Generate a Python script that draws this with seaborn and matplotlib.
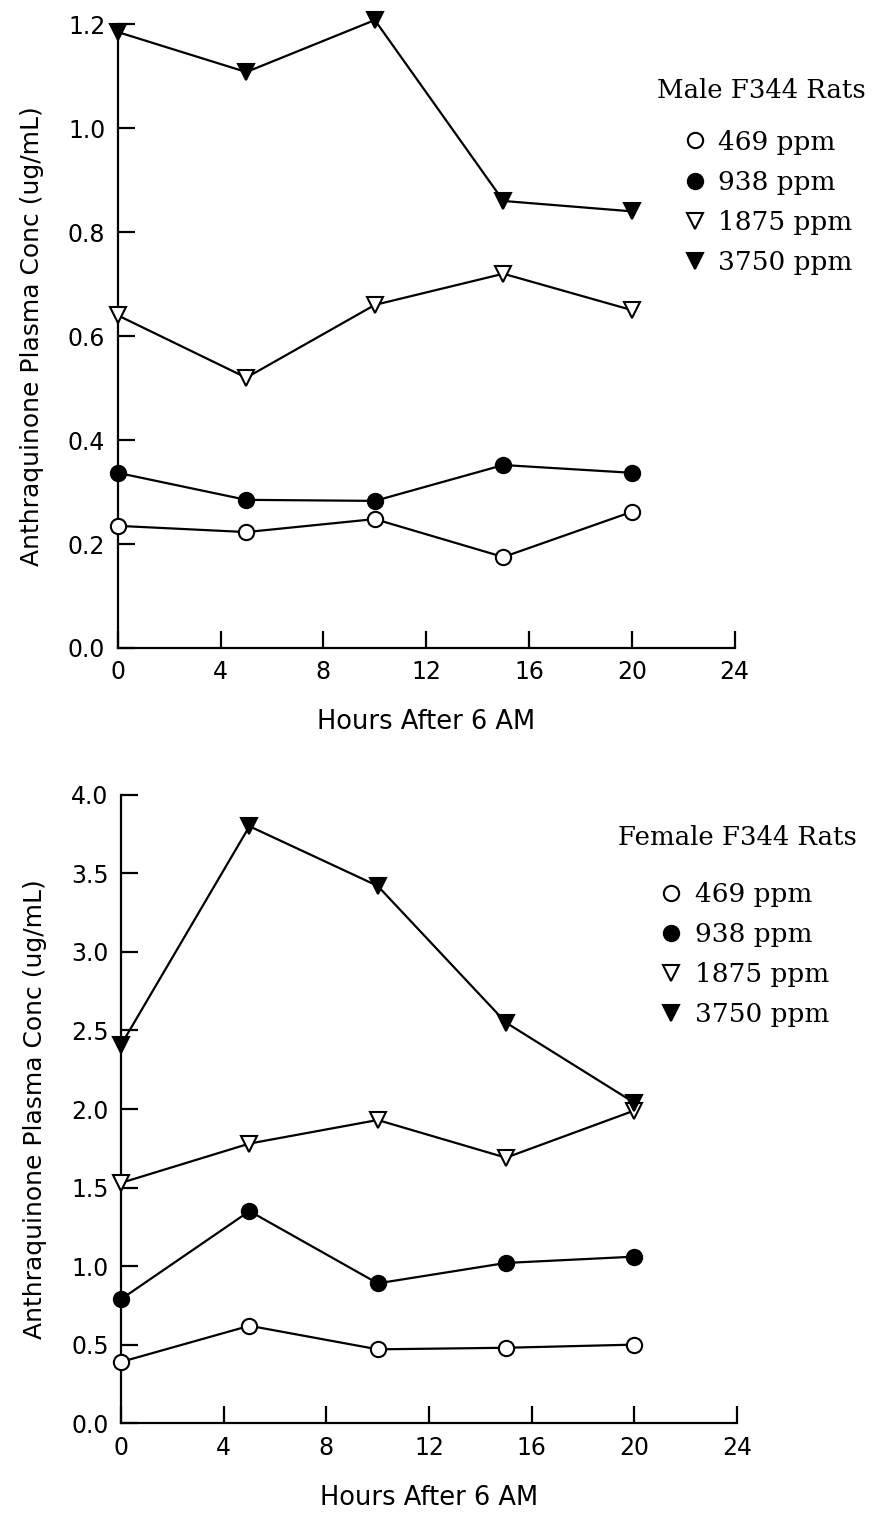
import matplotlib
matplotlib.use("Agg")
import matplotlib.pyplot as plt
import seaborn as sns
import pandas as pd
from matplotlib.lines import Line2D

hours = [0, 5, 10, 15, 20]
doses = ["469 ppm", "938 ppm", "1875 ppm", "3750 ppm"]

male_469 = [0.235, 0.223, 0.248, 0.175, 0.262]
male_938 = [0.337, 0.285, 0.283, 0.352, 0.337]
male_1875 = [0.64, 0.52, 0.66, 0.72, 0.65]
male_3750 = [1.185, 1.108, 1.208, 0.86, 0.84]

female_469 = [0.39, 0.62, 0.47, 0.48, 0.50]
female_938 = [0.79, 1.35, 0.89, 1.02, 1.06]
female_1875 = [1.53, 1.78, 1.93, 1.69, 1.99]
female_3750 = [2.41, 3.80, 3.42, 2.55, 2.04]

xticks = [0, 4, 8, 12, 16, 20, 24]
male_yticks = [0.0, 0.2, 0.4, 0.6, 0.8, 1.0, 1.2]
female_yticks = [0.0, 0.5, 1.0, 1.5, 2.0, 2.5, 3.0, 3.5, 4.0]

sns.set_style("ticks")
plt.rcParams['font.family'] = ['DejaVu Sans']
plt.rcParams.update({"text.color": "black", "axes.labelcolor": "black",
                     "xtick.color": "black", "ytick.color": "black",
                     "axes.edgecolor": "black"})

styles = {
    "469 ppm": dict(marker="o", markerfacecolor="white", markersize=11),
    "938 ppm": dict(marker="o", markerfacecolor="black", markersize=11),
    "1875 ppm": dict(marker="v", markerfacecolor="white", markersize=12),
    "3750 ppm": dict(marker="v", markerfacecolor="black", markersize=12),
}

fig = plt.figure(figsize=(8.72, 15.14), dpi=100)
ax1 = fig.add_axes([0.135, 0.572, 0.7076, 0.412])
ax2 = fig.add_axes([0.139, 0.060, 0.706, 0.415])

def draw(ax, series, yticks, ylim, title, leg_xy, title_xy):
    for dose, vals in zip(doses, series):
        df = pd.DataFrame({"h": hours, "c": vals})
        sns.lineplot(data=df, x="h", y="c", ax=ax, color="black", linewidth=1.6,
                     markeredgecolor="black", markeredgewidth=1.5, clip_on=False,
                     zorder=3, **styles[dose])
    ax.set_xlim(0, 24)
    ax.set_ylim(*ylim)
    ax.set_xticks(xticks)
    ax.set_yticks(yticks)
    ax.set_xticklabels([str(t) for t in xticks])
    ax.set_yticklabels([f"{t:.1f}" for t in yticks])
    sns.despine(ax=ax)
    for s in ["left", "bottom"]:
        ax.spines[s].set_linewidth(1.6)
    ax.tick_params(direction="in", length=12, width=1.6, labelsize=17, pad=9)
    ax.set_xlabel("Hours After 6 AM", fontsize=18.5, labelpad=18)
    ax.set_ylabel("Anthraquinone Plasma Conc (ug/mL)", fontsize=18, labelpad=17)
    ax.text(title_xy[0], title_xy[1], title, transform=ax.transAxes,
            fontsize=18.7, family="DejaVu Serif", ha="left", va="center")
    handles = [Line2D([], [], color="black", linestyle="none",
                      markeredgecolor="black", markeredgewidth=1.5,
                      **{**styles[d], "markersize": styles[d]["markersize"]})
               for d in doses]
    ax.legend(handles, doses, loc="upper left", bbox_to_anchor=leg_xy,
              frameon=False, prop={"family": "DejaVu Serif", "size": 19},
              handletextpad=0.3, labelspacing=0.57, borderpad=0,
              handlelength=1.2)

draw(ax1, [male_469, male_938, male_1875, male_3750], male_yticks, (0, 1.2),
     "Male F344 Rats", (0.888, 0.852), (0.874, 0.893))
draw(ax2, [female_469, female_938, female_1875, female_3750], female_yticks, (0, 4.0),
     "Female F344 Rats", (0.846, 0.882), (0.807, 0.932))

fig.savefig("out.png", dpi=100)
